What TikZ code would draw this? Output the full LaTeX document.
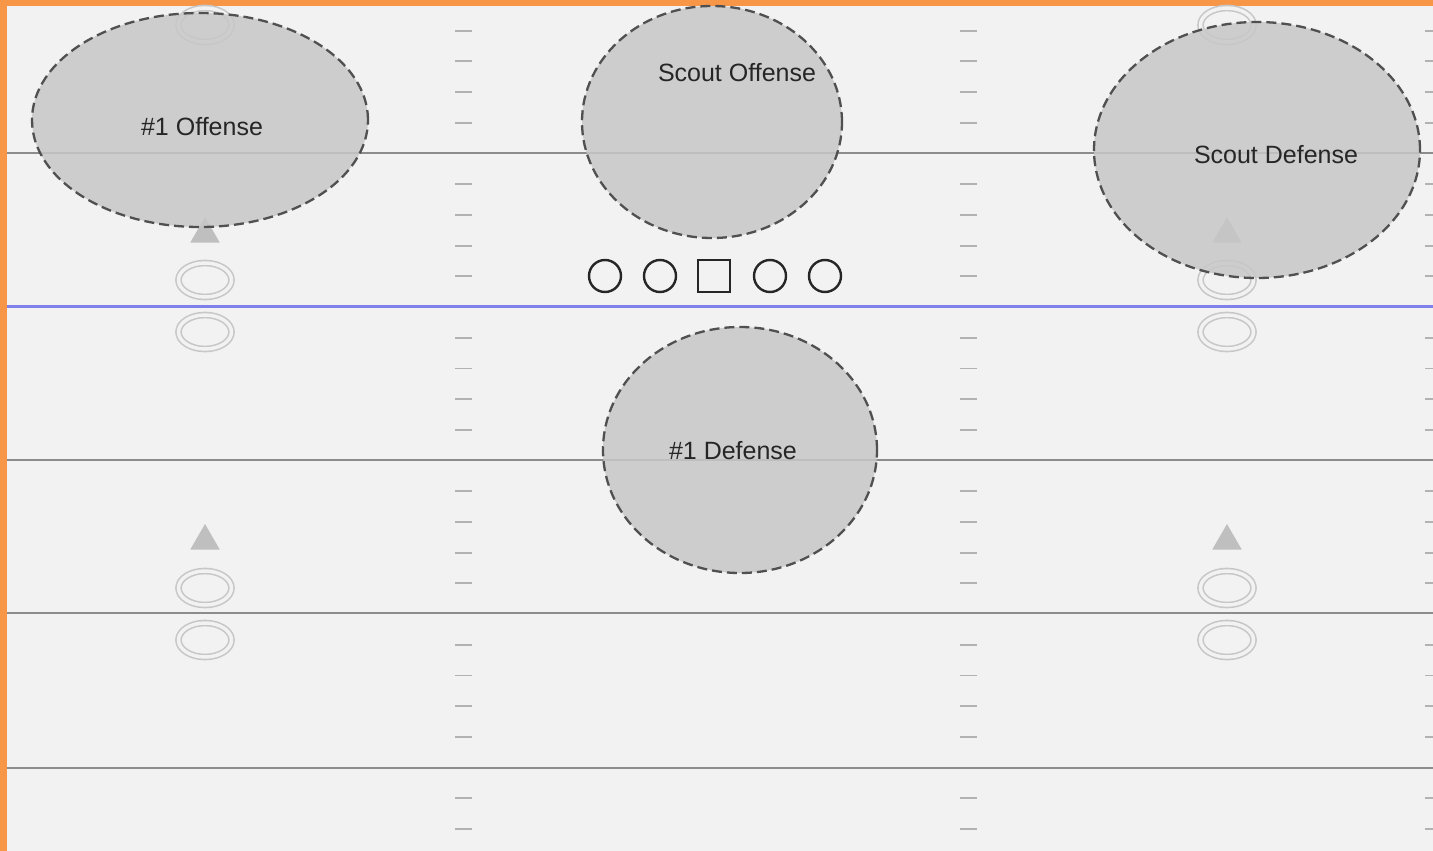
\documentclass[tikz,border=0pt]{standalone}
\usepackage{fontspec}
\setmainfont{Liberation Sans}
\usepackage{xcolor}
\usepackage{tikz}
\usetikzlibrary{shapes.geometric}

\begin{document}
\begin{tikzpicture}[x=1pt, y=-1pt, every node/.style={inner sep=0pt, outer sep=0pt, font=\fontsize{25}{30}\selectfont},
    zona/.style={ellipse, draw=grisBorde, line width=2.3pt, dash pattern=on 10pt off 5pt, fill=black!22, fill opacity=0.85},
    etiqueta/.style={text=black!85},
    llanta/.style={ellipse, draw=black!22, line width=1.6pt, double=campo, double distance=3.5pt, minimum width=53pt, minimum height=34pt},
    cono/.style={regular polygon, regular polygon sides=3, fill=black!25, minimum size=34pt},
    jugador/.style={circle, draw=black!85, line width=2.4pt, minimum size=32pt},
    centro/.style={rectangle, draw=black!85, line width=2.4pt, minimum size=32pt}]

    % Definimos colores
    \definecolor{naranja}{RGB}{248,150,72}   % Marco
    \definecolor{campo}{RGB}{242,242,242}    % Cesped gris
    \definecolor{grisBorde}{RGB}{80,80,80}   % Borde de zonas
    \definecolor{azulL}{RGB}{128,128,234}    % Linea de scrimmage

    % Marco y campo
    \fill[naranja] (0,0) rectangle (1433,851);
    \fill[campo] (7,6) rectangle (1433,851);
    \useasboundingbox (0,0) rectangle (1433,851);

    % Yardas
    \draw[black!45, line width=2.2pt] (7,153) -- (1433,153);
    \draw[black!45, line width=2.2pt] (7,460) -- (1433,460);
    \draw[black!45, line width=2.2pt] (7,613) -- (1433,613);
    \draw[black!45, line width=2.2pt] (7,768) -- (1433,768);
    \draw[azulL, line width=3pt] (7,306) -- (1433,306);   % Linea de scrimmage

    % Marcas de hash
    \foreach \n in {1,2,3,4,6,7,8,9,11,12,13,14,16,17,18,19,21,22,23,24,26,27}
      {
        \draw[black!30, line width=1.8pt] (455,30.7*\n) -- (472,30.7*\n);
        \draw[black!30, line width=1.8pt] (960,30.7*\n) -- (977,30.7*\n);
        \draw[black!30, line width=1.8pt] (1425,30.7*\n) -- (1433,30.7*\n);
      }

    % Llantas y conos izquierda
    \node[llanta] (llI0) at (205,25) {};
    \node[cono] (conoI1) at (205,234) {};
    \node[llanta] (llI1) at (205,280) {};
    \node[llanta] (llI2) at (205,332) {};
    \node[cono] (conoI2) at (205,541) {};
    \node[llanta] (llI3) at (205,588) {};
    \node[llanta] (llI4) at (205,640) {};

    % Llantas y conos derecha
    \node[llanta] (llD0) at (1227,25) {};
    \node[cono] (conoD1) at (1227,234) {};
    \node[llanta] (llD1) at (1227,280) {};
    \node[llanta] (llD2) at (1227,332) {};
    \node[cono] (conoD2) at (1227,541) {};
    \node[llanta] (llD3) at (1227,588) {};
    \node[llanta] (llD4) at (1227,640) {};

    % Zonas de los equipos
    \node[zona, minimum width=336pt, minimum height=214pt] (ofA) at (200,120) {};
    \node[zona, minimum width=260pt, minimum height=232pt] (ofB) at (712,122) {};
    \node[zona, minimum width=326pt, minimum height=256pt] (defB) at (1257,150) {};
    \node[zona, minimum width=274pt, minimum height=246pt] (defA) at (740,450) {};

    \node[etiqueta] (txtOfA) at (202,127) {\#1 Offense};
    \node[etiqueta] (txtOfB) at (737,73) {Scout Offense};
    \node[etiqueta] (txtDefB) at (1276,155) {Scout Defense};
    \node[etiqueta] (txtDefA) at (733,451) {\#1 Defense};

    % Linea ofensiva
    \node[jugador] (j1) at (605,276) {};
    \node[jugador] (j2) at (660,276) {};
    \node[centro] (c) at (714,276) {};   % Centro
    \node[jugador] (j3) at (770,276) {};
    \node[jugador] (j4) at (825,276) {};

\end{tikzpicture}
\end{document}
